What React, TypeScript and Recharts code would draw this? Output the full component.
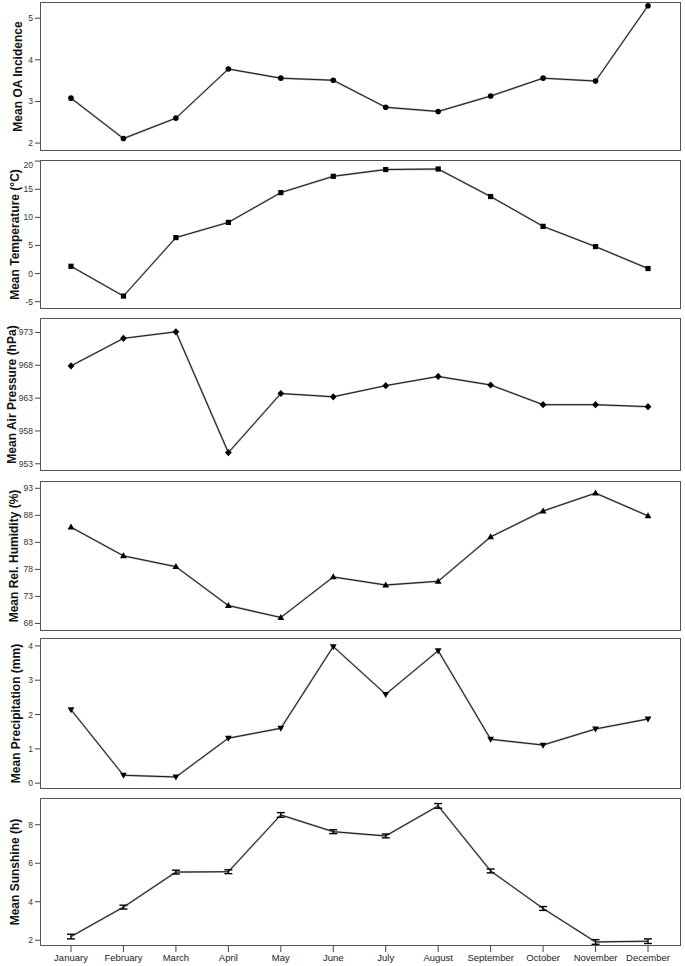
import { LineChart, Line, XAxis, YAxis, ErrorBar } from "recharts";

const months = [
  "January", "February", "March", "April", "May", "June",
  "July", "August", "September", "October", "November", "December",
];

const oaIncidence = [3.08, 2.11, 2.6, 3.78, 3.56, 3.51, 2.86, 2.76, 3.13, 3.56, 3.49, 5.3];
const temperature = [1.3, -4.0, 6.4, 9.1, 14.4, 17.3, 18.5, 18.6, 13.7, 8.4, 4.8, 0.9];
const airPressure = [967.9, 972.1, 973.1, 954.7, 963.7, 963.2, 964.9, 966.3, 965.0, 962.0, 962.0, 961.7];
const humidity = [85.8, 80.5, 78.5, 71.3, 69.1, 76.6, 75.1, 75.8, 84.0, 88.8, 92.1, 87.9];
const precipitation = [2.14, 0.23, 0.18, 1.31, 1.6, 3.98, 2.59, 3.86, 1.28, 1.11, 1.58, 1.87];
const sunshine = [2.19, 3.72, 5.54, 5.56, 8.51, 7.64, 7.42, 8.98, 5.6, 3.65, 1.91, 1.95];
const sunshineErr = [0.12, 0.1, 0.1, 0.1, 0.12, 0.1, 0.1, 0.12, 0.1, 0.1, 0.12, 0.12];

const oaTicks = [2, 3, 4, 5];
const tempTicks = [-5, 0, 5, 10, 15, 20];
const pressureTicks = [953, 958, 963, 968, 973];
const humidityTicks = [68, 73, 78, 83, 88, 93];
const precipTicks = [0, 1, 2, 3, 4];
const sunTicks = [2, 4, 6, 8];

const data = months.map((m, i) => ({
  month: m,
  oa: oaIncidence[i],
  temp: temperature[i],
  pressure: airPressure[i],
  humidity: humidity[i],
  precip: precipitation[i],
  sun: sunshine[i],
  sunErr: sunshineErr[i],
}));

const FONT = '"Liberation Sans", Arial, sans-serif';
const W = 685;
const LEFT = 40;
const RIGHT = 4;

type Shape = "circle" | "square" | "diamond" | "up" | "down" | "none";

const makeDot = (shape: Shape) => (props: any) => {
  const { cx, cy, index } = props;
  const k = `d-${index}`;
  if (cx == null || cy == null) return <g key={k} />;
  if (shape === "circle") return <circle key={k} cx={cx} cy={cy} r={2.8} fill="#000" />;
  if (shape === "square") return <rect key={k} x={cx - 2.6} y={cy - 2.6} width={5.2} height={5.2} fill="#000" />;
  if (shape === "diamond")
    return <polygon key={k} points={`${cx},${cy - 3.6} ${cx + 3.4},${cy} ${cx},${cy + 3.6} ${cx - 3.4},${cy}`} fill="#000" />;
  if (shape === "up")
    return <polygon key={k} points={`${cx},${cy - 3.6} ${cx + 3.4},${cy + 2.4} ${cx - 3.4},${cy + 2.4}`} fill="#000" />;
  if (shape === "down")
    return <polygon key={k} points={`${cx - 3.4},${cy - 2.4} ${cx + 3.4},${cy - 2.4} ${cx},${cy + 3.6}`} fill="#000" />;
  return <g key={k} />;
};

interface PanelProps {
  dataKey: string;
  label: string;
  labelX: number;
  domain: [number, number];
  ticks: number[];
  shape: Shape;
  top: number;
  boxH: number;
  bottom?: boolean;
  errKey?: string;
}

const Panel = ({ dataKey, label, labelX, domain, ticks, shape, top, boxH, bottom, errKey }: PanelProps) => {
  const axisH = bottom ? 22 : 7;
  return (
    <div style={{ position: "absolute", left: 0, top, width: W, height: boxH + axisH }}>
      <LineChart width={W} height={boxH + axisH} data={data} margin={{ top: 0, right: RIGHT, bottom: 0, left: 0 }}>
        <XAxis
          dataKey="month"
          type="category"
          interval={0}
          padding={{ left: 31, right: 33 }}
          axisLine={false}
          tickLine={{ stroke: "#444" }}
          tickSize={6}
          tickMargin={2}
          height={axisH}
          tick={bottom ? { fill: "#222", fontSize: 9.5, fontFamily: FONT } : false}
        />
        <YAxis
          domain={domain}
          ticks={ticks}
          type="number"
          allowDataOverflow
          width={LEFT}
          axisLine={false}
          tickLine={{ stroke: "#444" }}
          tickSize={5}
          tickMargin={2}
          tick={{ fill: "#333", fontSize: 8.5, fontFamily: FONT }}
          label={{
            value: label,
            angle: -90,
            position: "insideLeft",
            offset: labelX,
            style: { textAnchor: "middle", fontWeight: "bold", fontSize: 12, fill: "#111", fontFamily: FONT },
          }}
        />
        <Line
          dataKey={dataKey}
          type="linear"
          stroke="#aaa"
          strokeWidth={2}
          dot={false}
          activeDot={false}
          isAnimationActive={false}
        />
        <Line
          dataKey={dataKey}
          type="linear"
          stroke="#1a1a1a"
          strokeWidth={1}
          dot={makeDot(shape)}
          activeDot={false}
          isAnimationActive={false}
        >
          {errKey ? <ErrorBar dataKey={errKey} width={4} stroke="#000" strokeWidth={1.4} /> : null}
        </Line>
      </LineChart>
      <div
        style={{
          position: "absolute",
          left: LEFT,
          top: 0,
          width: W - LEFT - RIGHT,
          height: boxH,
          border: "1px solid #555",
          boxSizing: "border-box",
          pointerEvents: "none",
        }}
      />
    </div>
  );
};

export default function App() {
  return (
    <div style={{ position: "absolute", left: 0, top: 0, width: W, height: 966, background: "#fff" }}>
      <Panel dataKey="oa" label="Mean OA Incidence" labelX={18} domain={[1.81, 5.39]} ticks={oaTicks} shape="circle" top={2} boxH={149} />
      <Panel dataKey="temp" label="Mean Temperature (°C)" labelX={15} domain={[-6.3, 20.2]} ticks={tempTicks} shape="square" top={160} boxH={149} />
      <Panel dataKey="pressure" label="Mean Air Pressure (hPa)" labelX={12} domain={[951.9, 975.2]} ticks={pressureTicks} shape="diamond" top={318} boxH={153} />
      <Panel dataKey="humidity" label="Mean Rel. Humidity (%)" labelX={14} domain={[66.6, 94.35]} ticks={humidityTicks} shape="up" top={481} boxH={150} />
      <Panel dataKey="precip" label="Mean Precipitation (mm)" labelX={16} domain={[-0.17, 4.23]} ticks={precipTicks} shape="down" top={638} boxH={151} />
      <Panel dataKey="sun" label="Mean Sunshine (h)" labelX={15} domain={[1.7, 9.39]} ticks={sunTicks} shape="none" top={798} boxH={148} bottom errKey="sunErr" />
    </div>
  );
}
